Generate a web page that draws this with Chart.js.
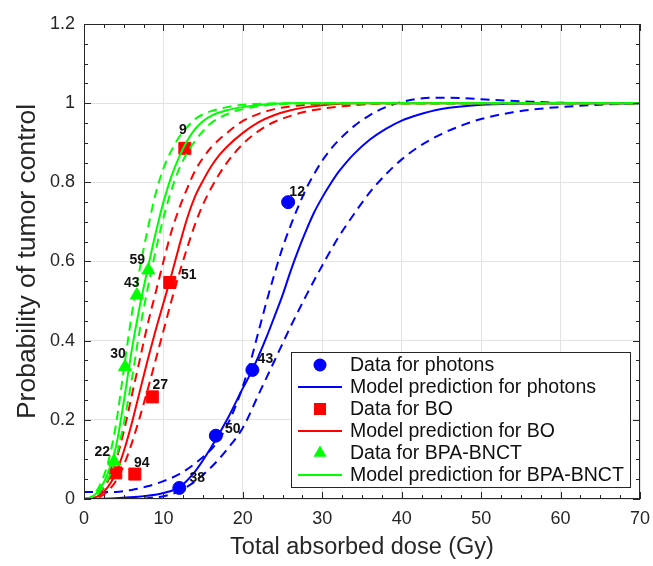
<!DOCTYPE html>
<html>
<head>
<meta charset="utf-8">
<script src="https://cdn.jsdelivr.net/npm/chart.js@4.4.1/dist/chart.umd.min.js"></script>
<style>
  html, body { margin: 0; padding: 0; background: #fff; }
  canvas { display: block; }
</style>
</head>
<body>
<canvas id="tcpChart" width="653" height="566"></canvas>
<script>
// axis ticks
const xTicks = [0, 10, 20, 30, 40, 50, 60, 70];
const xTickLabels = ["0", "10", "20", "30", "40", "50", "60", "70"];
const yTicks = [0, 0.2, 0.4, 0.6, 0.8, 1, 1.2];
const yTickLabels = ["0", "0.2", "0.4", "0.6", "0.8", "1", "1.2"];

// measured data points (dose Gy, probability, number of cases)
const photonDose = [12.0, 16.6, 21.2, 25.7];
const photonProb = [0.028, 0.16, 0.326, 0.75];
const photonCount = ["38", "50", "43", "12"];

const boDose = [4.0, 6.4, 8.6, 10.8, 12.7];
const boProb = [0.066, 0.063, 0.258, 0.547, 0.886];
const boCount = ["", "94", "27", "51", "9"];

const bnctDose = [3.8, 5.17, 6.65, 8.1];
const bnctProb = [0.095, 0.334, 0.515, 0.578];
const bnctCount = ["22", "30", "43", "59"];

// model curves
const photonModelDose = [0, 4, 8, 10, 12, 14, 16, 18, 20, 21, 22, 23, 24, 25, 26, 27, 28, 29, 30, 31, 32, 33, 34, 36, 38, 40, 42, 45, 50, 55, 60, 70];
const photonModel = [0, 0.002, 0.008, 0.015, 0.03, 0.07, 0.13, 0.2, 0.28, 0.318, 0.362, 0.41, 0.462, 0.515, 0.575, 0.63, 0.68, 0.725, 0.762, 0.795, 0.825, 0.85, 0.872, 0.908, 0.935, 0.956, 0.97, 0.985, 0.996, 0.999, 1, 1];

const photonUpperDose = [0, 4, 6, 8, 10, 12, 14, 16, 17, 18, 19, 20, 21, 22, 23, 24, 25, 26, 27, 28, 29, 30, 31, 32, 34, 36, 38, 40, 43, 46, 50, 55, 60, 70];
const photonUpper = [0.018, 0.018, 0.023, 0.032, 0.045, 0.063, 0.09, 0.125, 0.15, 0.185, 0.23, 0.285, 0.35, 0.425, 0.5, 0.57, 0.635, 0.69, 0.74, 0.785, 0.822, 0.855, 0.882, 0.905, 0.942, 0.97, 0.99, 1.003, 1.013, 1.014, 1.01, 1.005, 1.001, 1.0];

const photonLowerDose = [0, 7, 8, 10, 12, 14, 16, 18, 20, 22, 24, 26, 28, 30, 32, 34, 36, 38, 40, 42, 45, 48, 50, 54, 58, 62, 66, 70];
const photonLower = [0, 0, 0.002, 0.007, 0.02, 0.045, 0.08, 0.125, 0.18, 0.265, 0.35, 0.435, 0.515, 0.59, 0.66, 0.72, 0.775, 0.82, 0.858, 0.888, 0.922, 0.947, 0.96, 0.977, 0.987, 0.993, 0.997, 1.0];

const boModelDose = [0, 1, 2, 3, 4, 5, 6, 7, 8, 9, 10, 11, 12, 13, 14, 15, 16, 17, 18, 20, 22, 24, 26, 28, 30, 34, 40, 70];
const boModel = [0, 0.002, 0.01, 0.03, 0.065, 0.12, 0.19, 0.27, 0.35, 0.425, 0.495, 0.565, 0.64, 0.71, 0.765, 0.805, 0.84, 0.868, 0.89, 0.925, 0.952, 0.97, 0.982, 0.99, 0.995, 1, 1, 1];
const boUpper = [0, 0.003, 0.015, 0.045, 0.095, 0.17, 0.26, 0.35, 0.44, 0.52, 0.6, 0.675, 0.735, 0.785, 0.83, 0.862, 0.888, 0.908, 0.925, 0.955, 0.973, 0.985, 0.992, 0.996, 0.998, 1, 1, 1];
const boLower = [0, 0.001, 0.006, 0.02, 0.045, 0.085, 0.14, 0.205, 0.275, 0.35, 0.425, 0.5, 0.57, 0.635, 0.695, 0.745, 0.785, 0.82, 0.85, 0.897, 0.93, 0.953, 0.968, 0.979, 0.986, 0.995, 1, 1];

const bnctModelDose = [0, 1, 2, 3, 4, 5, 6, 7, 8, 9, 10, 11, 12, 13, 14, 15, 16, 18, 20, 23, 26, 30, 70];
const bnctModel = [0, 0.005, 0.025, 0.065, 0.13, 0.245, 0.375, 0.485, 0.58, 0.67, 0.75, 0.815, 0.865, 0.905, 0.935, 0.955, 0.968, 0.982, 0.99, 0.997, 1, 1, 1];
const bnctUpper = [0, 0.007, 0.035, 0.09, 0.185, 0.325, 0.465, 0.58, 0.68, 0.77, 0.835, 0.88, 0.915, 0.94, 0.96, 0.972, 0.98, 0.99, 0.996, 0.999, 1, 1, 1];
const bnctLower = [0, 0.003, 0.018, 0.05, 0.1, 0.19, 0.3, 0.425, 0.53, 0.625, 0.71, 0.78, 0.835, 0.875, 0.905, 0.93, 0.95, 0.972, 0.985, 0.995, 0.999, 1, 1];

const legendNames = [
  "Data for photons",
  "Model prediction for photons",
  "Data for BO",
  "Model prediction for BO",
  "Data for BPA-BNCT",
  "Model prediction for BPA-BNCT",
];

// label offsets in px (dx, dy) per point
const photonLabelOffset = [[18, -10], [17, -7], [13, -11], [9, -10]];
const boLabelOffset = [[0, 0], [7, -11], [8, -12], [19, -7], [-2, -18]];
const bnctLabelOffset = [[-12, -9], [-7, -13], [-5, -12], [-11, -10]];

const BLUE = "#0000ff";
const RED = "#ff0000";
const GREEN = "#00ff00";
const AXIS = "#262626";
const FONT = "'Liberation Sans', Arial, Helvetica, sans-serif";
const DASH = [9, 6];

const pairs = (xs, ys) => xs.map((x, i) => ({ x, y: ys[i] }));

const curve = (xs, ys, color, dashed, order) => ({
  data: pairs(xs, ys),
  showLine: true,
  borderColor: color,
  backgroundColor: color,
  borderWidth: 2,
  borderDash: dashed ? DASH : [],
  pointRadius: 0,
  pointHoverRadius: 0,
  cubicInterpolationMode: "monotone",
  order,
});

const points = (xs, ys, color, style, radius, order, counts, offsets) => ({
  data: pairs(xs, ys),
  showLine: false,
  pointStyle: style,
  pointRadius: radius,
  pointBackgroundColor: color,
  pointBorderColor: color,
  pointBorderWidth: 1,
  counts,
  offsets,
  order,
});

const datasets = [
  points(photonDose, photonProb, BLUE, "circle", 6.5, 12, photonCount, photonLabelOffset),
  curve(photonModelDose, photonModel, BLUE, false, 11),
  curve(photonUpperDose, photonUpper, BLUE, true, 10),
  curve(photonLowerDose, photonLower, BLUE, true, 9),
  points(boDose, boProb, RED, "rect", 8.5, 8, boCount, boLabelOffset),
  curve(boModelDose, boModel, RED, false, 7),
  curve(boModelDose, boUpper, RED, true, 6),
  curve(boModelDose, boLower, RED, true, 5),
  points(bnctDose, bnctProb, GREEN, "triangle", 7.5, 4, bnctCount, bnctLabelOffset),
  curve(bnctModelDose, bnctModel, GREEN, false, 3),
  curve(bnctModelDose, bnctUpper, GREEN, true, 2),
  curve(bnctModelDose, bnctLower, GREEN, true, 1),
];

const legendRows = [
  { kind: "point", color: BLUE, style: "circle", r: 6.5 },
  { kind: "line", color: BLUE },
  { kind: "point", color: RED, style: "rect", r: 8.5 },
  { kind: "line", color: RED },
  { kind: "point", color: GREEN, style: "triangle", r: 7.5 },
  { kind: "line", color: GREEN },
];

function drawMarker(ctx, style, x, y, r, color) {
  ctx.fillStyle = color;
  ctx.beginPath();
  if (style === "circle") {
    ctx.arc(x, y, r, 0, Math.PI * 2);
  } else if (style === "rect") {
    const s = Math.SQRT1_2 * r;
    ctx.rect(x - s, y - s, 2 * s, 2 * s);
  } else {
    for (let k = 0; k < 3; k++) {
      const a = (k * 2 * Math.PI) / 3;
      const px = x + Math.sin(a) * r;
      const py = y - Math.cos(a) * r;
      if (k === 0) ctx.moveTo(px, py);
      else ctx.lineTo(px, py);
    }
    ctx.closePath();
  }
  ctx.fill();
}

const decor = {
  id: "decor",
  afterDatasetsDraw(chart) {
    const { ctx, chartArea: a, scales } = chart;
    const xs = scales.x;
    const ys = scales.y;
    ctx.save();

    // box
    ctx.strokeStyle = AXIS;
    ctx.lineWidth = 1;
    ctx.strokeRect(Math.round(a.left) + 0.5, Math.round(a.top) + 0.5,
      Math.round(a.right - a.left) - 1, Math.round(a.bottom - a.top) - 1);

    // inward ticks on all sides
    ctx.beginPath();
    for (let i = 0; i <= 28; i++) {
      const px = Math.round(xs.getPixelForValue(i * 2.5)) + 0.5;
      const len = i % 4 === 0 ? 7 : 4;
      ctx.moveTo(px, a.bottom);
      ctx.lineTo(px, a.bottom - len);
      ctx.moveTo(px, a.top);
      ctx.lineTo(px, a.top + len);
    }
    for (let i = 0; i <= 24; i++) {
      const py = Math.round(ys.getPixelForValue(i * 0.05)) + 0.5;
      const len = i % 4 === 0 ? 7 : 4;
      ctx.moveTo(a.left, py);
      ctx.lineTo(a.left + len, py);
      ctx.moveTo(a.right, py);
      ctx.lineTo(a.right - len, py);
    }
    ctx.stroke();

    // sample size labels
    ctx.fillStyle = "#111";
    ctx.font = "bold 14px " + FONT;
    ctx.textAlign = "center";
    ctx.textBaseline = "middle";
    chart.data.datasets.forEach((ds, i) => {
      if (!ds.counts) return;
      const meta = chart.getDatasetMeta(i);
      meta.data.forEach((el, j) => {
        const txt = ds.counts[j];
        if (!txt) return;
        const off = ds.offsets[j];
        ctx.fillText(txt, el.x + off[0], el.y + off[1]);
      });
    });
    ctx.restore();
  },
  afterDraw(chart) {
    const { ctx, chartArea: a } = chart;
    const boxW = 339;
    const boxH = 135;
    const right = a.right - 10;
    const bottom = a.bottom - 12;
    const left = right - boxW;
    const top = bottom - boxH;
    ctx.save();
    ctx.fillStyle = "#fff";
    ctx.fillRect(left, top, boxW, boxH);
    ctx.strokeStyle = AXIS;
    ctx.lineWidth = 1;
    ctx.strokeRect(Math.round(left) + 0.5, Math.round(top) + 0.5, boxW, boxH);

    ctx.font = "19.5px " + FONT;
    ctx.textAlign = "left";
    ctx.textBaseline = "middle";
    legendRows.forEach((row, i) => {
      const cy = top + 13 + i * 22;
      const cx = left + 29;
      if (row.kind === "point") {
        drawMarker(ctx, row.style, cx, cy, row.r, row.color);
      } else {
        ctx.strokeStyle = row.color;
        ctx.lineWidth = 2;
        ctx.beginPath();
        ctx.moveTo(left + 7, cy);
        ctx.lineTo(left + 51, cy);
        ctx.stroke();
      }
      ctx.fillStyle = "#111";
      ctx.fillText(legendNames[i], left + 59, cy + 1);
    });
    ctx.restore();
  },
};

new Chart(document.getElementById("tcpChart"), {
  type: "scatter",
  data: { datasets },
  plugins: [decor],
  options: {
    responsive: false,
    animation: false,
    events: [],
    layout: { padding: { top: 24, right: 13, left: 0, bottom: 0 } },
    plugins: { legend: { display: false }, tooltip: { enabled: false } },
    scales: {
      x: {
        type: "linear",
        min: 0,
        max: 70,
        afterFit: (s) => { s.height = 67; s.paddingLeft = 0; s.paddingRight = 0; },
        afterBuildTicks: (s) => { s.ticks = xTicks.map((v) => ({ value: v })); },
        ticks: {
          callback: (v, i) => xTickLabels[i],
          color: AXIS,
          font: { family: FONT, size: 18 },
          padding: 9,
          maxRotation: 0,
        },
        grid: { color: "#e3e3e3", drawTicks: false },
        border: { display: false },
        title: {
          display: true,
          text: "Total absorbed dose (Gy)",
          color: AXIS,
          font: { family: FONT, size: 23.5 },
          padding: { top: 0, bottom: 4 },
        },
      },
      y: {
        type: "linear",
        min: 0,
        max: 1.2,
        afterFit: (s) => { s.width = 84; s.paddingTop = 0; s.paddingBottom = 0; },
        afterBuildTicks: (s) => { s.ticks = yTicks.map((v) => ({ value: v })); },
        ticks: {
          callback: (v, i) => yTickLabels[i],
          color: AXIS,
          font: { family: FONT, size: 18 },
          padding: 9,
        },
        grid: { color: "#e3e3e3", drawTicks: false },
        border: { display: false },
        title: {
          display: true,
          text: "Probability of tumor control",
          color: AXIS,
          font: { family: FONT, size: 26.5 },
          padding: { top: 12, bottom: 0 },
        },
      },
    },
  },
});
</script>
</body>
</html>
